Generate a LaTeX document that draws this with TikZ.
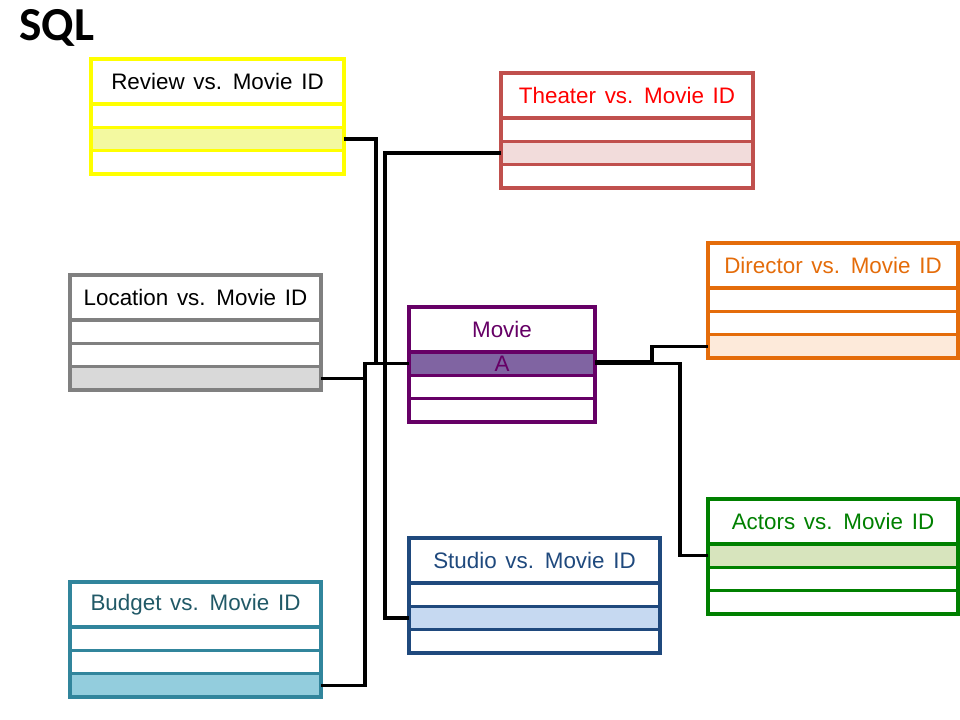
\documentclass[tikz,border=0pt]{standalone}
\usepackage{fontspec}
\setmainfont[WordSpace=1.4]{Liberation Sans}
\newfontfamily\headfont{Carlito}
\usetikzlibrary{positioning}

\definecolor{revline}{HTML}{FFFF00}
\definecolor{revfill}{HTML}{F3F9A0}
\definecolor{thrline}{HTML}{C0504D}
\definecolor{thrtext}{HTML}{FF0000}
\definecolor{thrfill}{HTML}{F2DCDB}
\definecolor{dirline}{HTML}{E46C0A}
\definecolor{dirfill}{HTML}{FDEADA}
\definecolor{locline}{HTML}{808080}
\definecolor{locfill}{HTML}{D9D9D9}
\definecolor{movline}{HTML}{660066}
\definecolor{movfill}{HTML}{8064A2}
\definecolor{actline}{HTML}{008000}
\definecolor{actfill}{HTML}{D7E4BD}
\definecolor{stuline}{HTML}{1F497D}
\definecolor{stufill}{HTML}{C6D9F1}
\definecolor{budline}{HTML}{31859C}
\definecolor{budtext}{HTML}{215967}
\definecolor{budfill}{HTML}{93CDDD}

\tikzset{
  tabhead/.style={draw, line width=2.3pt, inner sep=0pt, outer sep=0pt,
    minimum height=33.75pt, font=\fontsize{16.8}{18}\selectfont},
  tabrow/.style={draw, line width=2.3pt, inner sep=0pt, outer sep=0pt,
    minimum height=17.5pt, font=\fontsize{16.8}{18}\selectfont},
  link/.style={line width=2.4pt, black}
}

% #1 name, #2 top left, #3 width, #4 title, #5 line, #6 text, #7 rows fill/text
\newcommand{\sqltab}[7]{%
  \node[tabhead, anchor=north west, draw=#5, text=#6, minimum width=#3] (#1-0) at (#2) {#4};
  \foreach \f/\t [count=\r] in {#7}
  {
    \pgfmathtruncatemacro\p{\r-1}
    \node[tabrow, below=0pt of #1-\p, draw=#5, fill=\f, text=#6, minimum width=#3] (#1-\r) {\t};
  }
}

\begin{document}
\begin{tikzpicture}[x=0.75pt,y=-0.75pt]
\useasboundingbox (0,0) rectangle (960,720);

\node[anchor=base west, inner sep=0pt, font=\headfont\bfseries\fontsize{35.5}{38}\selectfont] (sql) at (19,41) {SQL};

\sqltab{rev}{91,59}{189.75pt}{Review vs. Movie ID}{revline}{black}{white/, revfill/, white/}
\sqltab{thr}{501,73}{189pt}{Theater vs. Movie ID}{thrline}{thrtext}{white/, thrfill/, white/}
\sqltab{dir}{708,243}{187.5pt}{Director vs. Movie ID}{dirline}{dirline}{white/, white/, dirfill/}
\sqltab{loc}{70,275}{188.25pt}{Location vs. Movie ID}{locline}{black}{white/, white/, locfill/}
\sqltab{mov}{409,307}{139.5pt}{Movie}{movline}{movline}{movfill/A, white/, white/}
\sqltab{act}{708,499}{187.5pt}{Actors vs. Movie ID}{actline}{actline}{actfill/, white/, white/}
\sqltab{stu}{409,538}{188.25pt}{Studio vs. Movie ID}{stuline}{stuline}{white/, stufill/, white/}
\sqltab{bud}{70,582}{188.25pt}{Budget vs. Movie ID}{budline}{budtext}{white/, white/, budfill/}

\draw[link] (rev-2.east) -- ++(32,0) |- (mov-1.west);
\draw[link] (thr-2.west) -- ++(-116,0) |- (stu-2.west);
\draw[link] (loc-3.east) -- ++(44,0) |- (mov-1.west);
\draw[link] (bud-3.east) -- ++(44,0) |- (mov-1.west);
\draw[link] ([yshift=1.3pt]mov-1.east) -- ++(57,0) |- (dir-3.west);
\draw[link] (mov-1.east) -- ++(85,0) |- (act-1.west);
\end{tikzpicture}
\end{document}
